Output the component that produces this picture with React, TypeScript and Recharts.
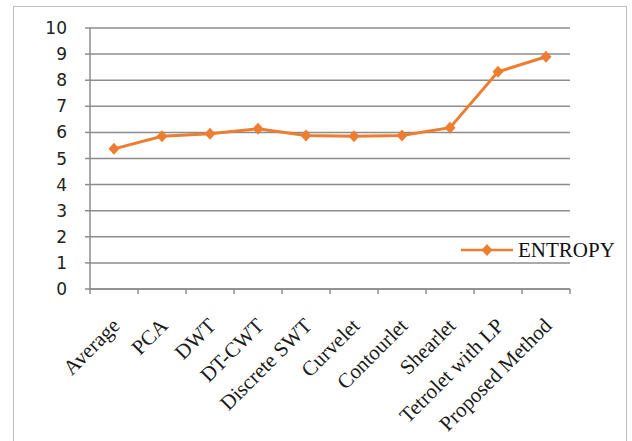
import React from 'react';
import { LineChart, Line, XAxis, YAxis, CartesianGrid, Legend } from 'recharts';

const categories = [
  'Average',
  'PCA',
  'DWT',
  'DT-CWT',
  'Discrete SWT',
  'Curvelet',
  'Contourlet',
  'Shearlet',
  'Tetrolet with LP',
  'Proposed Method',
];
const entropyValues = [5.37, 5.85, 5.95, 6.14, 5.88, 5.85, 5.88, 6.18, 8.32, 8.9];
const yTicks = [0, 1, 2, 3, 4, 5, 6, 7, 8, 9, 10];
const seriesName = 'ENTROPY';

const data = categories.map((name, i) => ({ pos: i + 0.5, name, entropy: entropyValues[i] }));
const xTicks: number[] = [];
for (let i = 0; i <= categories.length * 2; i++) xTicks.push(i / 2);

const ORANGE = '#ED7D31';
const GRID = '#8c8c8c';
const SERIF = "'Liberation Serif', 'Times New Roman', serif";

const XTick = (props: any) => {
  const { x, y, payload } = props;
  const v = payload.value as number;
  if (Number.isInteger(v)) {
    return <line x1={x} x2={x} y1={y} y2={y + 5} stroke={GRID} strokeWidth={1.5} />;
  }
  const idx = Math.floor(v);
  return (
    <text
      transform={`translate(${x + 7},${y + 38}) rotate(-45)`}
      textAnchor="end"
      fontFamily={SERIF}
      fontSize={21}
      fill="#1a1a1a"
    >
      {categories[idx]}
    </text>
  );
};

const Diamond = (props: any) => {
  const { cx, cy, index } = props;
  if (cx == null || cy == null) return <g key={index} />;
  return (
    <polygon
      key={index}
      points={`${cx},${cy - 6} ${cx + 5.5},${cy} ${cx},${cy + 6} ${cx - 5.5},${cy}`}
      fill={ORANGE}
    />
  );
};

const LegendContent = () => (
  <div style={{ display: 'flex', alignItems: 'center' }}>
    <svg width={54} height={24}>
      <line x1={0} x2={52} y1={12} y2={12} stroke={ORANGE} strokeWidth={2.5} />
      <polygon points="26,6 31.5,12 26,18 20.5,12" fill={ORANGE} />
    </svg>
    <span style={{ fontFamily: SERIF, fontSize: 21, color: '#111', marginLeft: 3, lineHeight: '24px' }}>
      {seriesName}
    </span>
  </div>
);

export default function App() {
  return (
    <div style={{ position: 'absolute', left: 0, top: 0, width: 632, height: 441, overflow: 'hidden', background: '#fff' }}>
      <div
        style={{
          position: 'absolute',
          left: 13,
          top: 6,
          width: 612,
          height: 460,
          border: '1.5px solid #bdbdbd',
        }}
      />
      <div style={{ position: 'absolute', left: 0, top: 0 }}>
        <LineChart width={632} height={441} data={data} margin={{ top: 28, right: 62, bottom: 0, left: 0 }}>
          <CartesianGrid vertical={false} stroke={GRID} strokeWidth={1.5} />
          <XAxis
            dataKey="pos"
            type="number"
            domain={[0, 10]}
            ticks={xTicks}
            interval={0}
            tick={<XTick />}
            tickLine={false}
            tickSize={0}
            tickMargin={0}
            height={152}
            axisLine={{ stroke: GRID, strokeWidth: 1.5 }}
          />
          <YAxis
            type="number"
            domain={[0, 10]}
            ticks={yTicks}
            interval={0}
            width={90}
            tickSize={5}
            tickMargin={18}
            axisLine={{ stroke: GRID, strokeWidth: 1.5 }}
            tickLine={{ stroke: GRID, strokeWidth: 1.5 }}
            tick={{ fontFamily: "'DejaVu Sans', Verdana, sans-serif", fontSize: 17, fill: '#222' }}
          />
          <Legend
            layout="horizontal"
            verticalAlign="middle"
            align="center"
            content={<LegendContent />}
            wrapperStyle={{ left: 461, top: 238, width: 170, height: 24 }}
          />
          <Line
            type="linear"
            dataKey="entropy"
            name={seriesName}
            stroke={ORANGE}
            strokeWidth={3}
            dot={<Diamond />}
            activeDot={false}
            isAnimationActive={false}
          />
        </LineChart>
      </div>
    </div>
  );
}
